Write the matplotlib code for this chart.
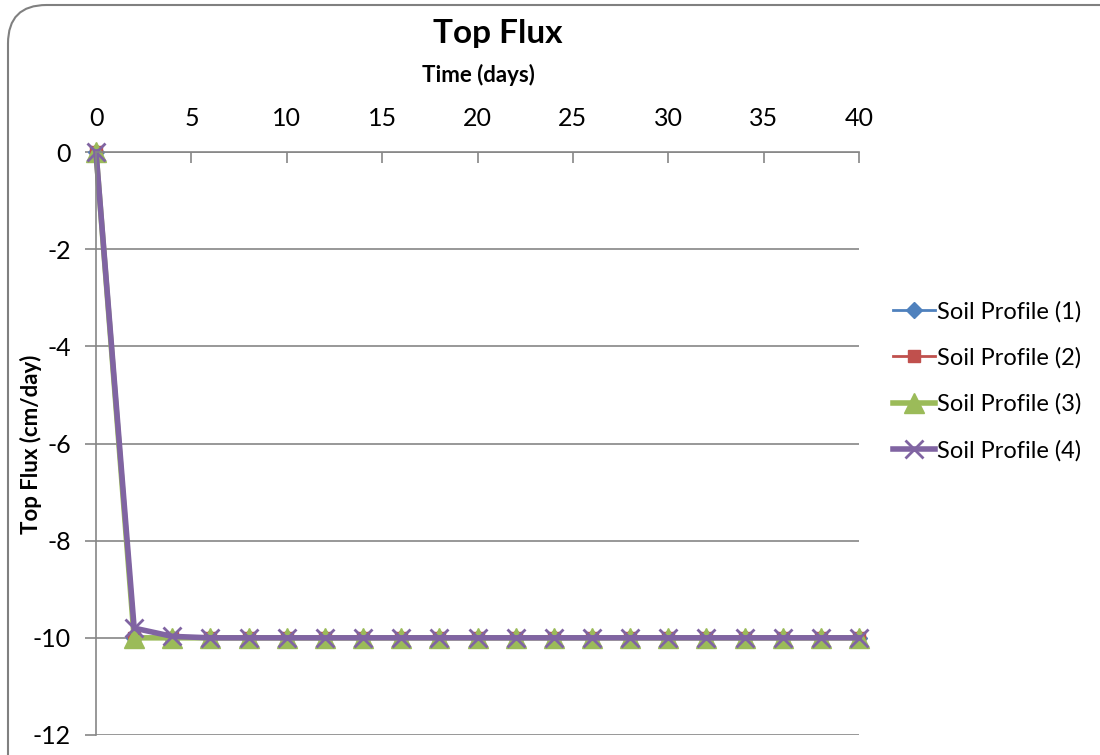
import matplotlib.pyplot as plt
from matplotlib.patches import FancyBboxPatch

plt.rcParams['font.family'] = ['Lato', 'DejaVu Sans']
plt.rcParams['axes.unicode_minus'] = False

# data
time_days = [0, 2, 4, 6, 8, 10, 12, 14, 16, 18, 20, 22, 24, 26, 28, 30, 32, 34, 36, 38, 40]
flux_1 = [0, -10, -10, -10, -10, -10, -10, -10, -10, -10, -10, -10, -10, -10, -10, -10, -10, -10, -10, -10, -10]
flux_2 = [0, -10, -10, -10, -10, -10, -10, -10, -10, -10, -10, -10, -10, -10, -10, -10, -10, -10, -10, -10, -10]
flux_3 = [0, -10, -10, -10, -10, -10, -10, -10, -10, -10, -10, -10, -10, -10, -10, -10, -10, -10, -10, -10, -10]
flux_4 = [0, -9.8, -9.97, -10, -10, -10, -10, -10, -10, -10, -10, -10, -10, -10, -10, -10, -10, -10, -10, -10, -10]
labels = ['Soil Profile (1)', 'Soil Profile (2)', 'Soil Profile (3)', 'Soil Profile (4)']
x_ticks = [0, 5, 10, 15, 20, 25, 30, 35, 40]
y_ticks = [0, -2, -4, -6, -8, -10, -12]

fig = plt.figure(figsize=(11, 7.55), dpi=100)
ax = fig.add_axes([96 / 1100, 1 - 735 / 755, (859 - 96) / 1100, (735 - 152) / 755])

# rounded chart border
fig.patches.append(FancyBboxPatch((8 / 1100, -0.2), 1.2, 1.2 - 5 / 755,
                                  boxstyle='round,pad=0,rounding_size=0.035',
                                  transform=fig.transFigure, fill=False,
                                  edgecolor='#808080', linewidth=1.5,
                                  mutation_aspect=1100 / 755))

ax.plot(time_days, flux_1, color='#4F81BD', lw=2, marker='D', ms=8, label=labels[0], clip_on=False)
ax.plot(time_days, flux_2, color='#C0504D', lw=2, marker='s', ms=9, label=labels[1], clip_on=False)
ax.plot(time_days, flux_3, color='#9BBB59', lw=4, marker='^', ms=15, label=labels[2], clip_on=False)
ax.plot(time_days, flux_4, color='#8064A2', lw=4, marker='x', ms=13, mew=2, label=labels[3], clip_on=False)

ax.set_xlim(0, 40)
ax.set_ylim(-12, 0)
ax.xaxis.tick_top()
ax.set_xticks(x_ticks)
ax.set_yticks(y_ticks)
ax.tick_params(axis='x', direction='in', length=8, width=1.2, color='#868686',
               labelsize=18, pad=16)
ax.tick_params(axis='y', direction='out', length=8, width=1.2, color='#868686',
               labelsize=18, pad=10)
ax.grid(axis='y', color='#868686', lw=1.2)
ax.set_axisbelow(True)
for s in ['right', 'bottom']:
    ax.spines[s].set_visible(False)
for s in ['left', 'top']:
    ax.spines[s].set_color('#868686')
    ax.spines[s].set_linewidth(1.2)

fig.text(498 / 1100, 1 - 33 / 755, 'Top Flux', fontsize=24, fontweight='bold',
         ha='center', va='center')
fig.text(478 / 1100, 1 - 75 / 755, 'Time (days)', fontsize=16, fontweight='bold',
         ha='center', va='center')
fig.text(31 / 1100, 1 - 444 / 755, 'Top Flux (cm/day)', fontsize=16, fontweight='bold',
         ha='center', va='center', rotation=90)

ax.legend(loc='center left', bbox_to_anchor=(1.045, 0.607), frameon=False,
          fontsize=17, handlelength=1.75, handletextpad=0.1, labelspacing=1.05,
          borderpad=0, borderaxespad=0)

fig.savefig('out.png', dpi=100)
